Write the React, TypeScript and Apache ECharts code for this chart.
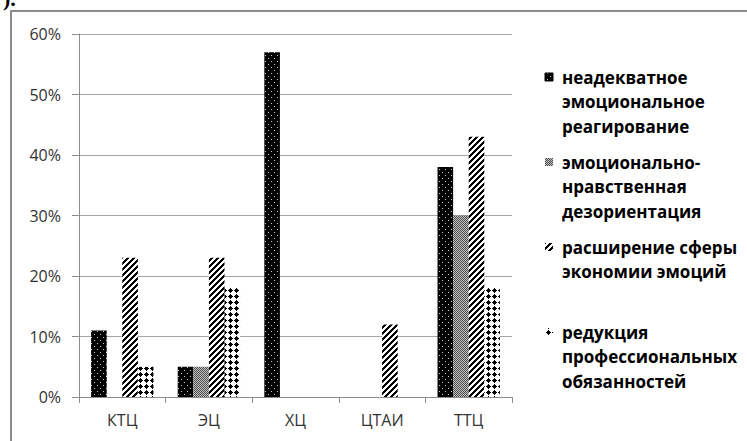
import React, { useEffect, useRef } from "react";
import * as echarts from "echarts";

const categories = ["КТЦ", "ЭЦ", "ХЦ", "ЦТАИ", "ТТЦ"];
const seriesNames = [
  "неадекватное эмоциональное реагирование",
  "эмоционально-нравственная дезориентация",
  "расширение сферы экономии эмоций",
  "редукция профессиональных обязанностей",
];
const legendLabels = [
  "неадекватное\nэмоциональное\nреагирование",
  "эмоционально-\nнравственная\nдезориентация",
  "расширение сферы\nэкономии эмоций",
  "редукция\nпрофессиональных\nобязанностей",
];
const inadequate = [11, 5, 57, 0, 38];
const disorientation = [0, 5, 0, 0, 30];
const economy = [23, 23, 0, 12, 43];
const reduction = [5, 18, 0, 0, 18];
const yMax = 60;
const yStep = 10;

function makeTile(size: number, bg: string, fn: (x: number, y: number) => string | null) {
  const c = document.createElement("canvas");
  c.width = size;
  c.height = size;
  const ctx = c.getContext("2d")!;
  ctx.fillStyle = bg;
  ctx.fillRect(0, 0, size, size);
  for (let y = 0; y < size; y++) {
    for (let x = 0; x < size; x++) {
      const col = fn(x, y);
      if (col) {
        ctx.fillStyle = col;
        ctx.fillRect(x, y, 1, 1);
      }
    }
  }
  return { image: c, repeat: "repeat", imageWidth: size, imageHeight: size } as any;
}

export default function App() {
  const ref = useRef<HTMLDivElement>(null);
  useEffect(() => {
    if (!ref.current) return;
    const chart = echarts.init(ref.current, null, { renderer: "svg" });

    const pDots = makeTile(6, "#000", (x, y) =>
      (x === 1 && y === 1) || (x === 4 && y === 4) ? "#c8c8c8" : null
    );
    const pGray = makeTile(2, "#c4c4c4", (x, y) => ((x + y) % 2 === 0 ? "#4a4a4a" : null));
    const pStripe = makeTile(6, "#fff", (x, y) => ((x + y) % 6 < 3 ? "#000" : null));
    const pDiamond = makeTile(6, "#fff", (x, y) =>
      Math.abs(x - 2) + Math.abs(y - 2) <= 2 ? "#000" : null
    );
    const patterns = [pDots, pGray, pStripe, pDiamond];
    const values = [inadequate, disorientation, economy, reduction];

    const font = "'Open Sans', 'Noto Sans', sans-serif";

    const legendGraphics: any[] = [];
    seriesNames.forEach((_, i) => {
      const c = 77 + i * 85;
      legendGraphics.push({
        type: "rect",
        silent: true,
        shape: { x: 545, y: c - 4, width: 8, height: 8 },
        style: { fill: patterns[i], stroke: i === 0 ? "#000" : null, lineWidth: i === 0 ? 1 : 0 },
      });
      legendGraphics.push({
        type: "text",
        silent: true,
        x: 562,
        y: c - 12.25,
        style: {
          text: legendLabels[i],
          fontSize: 17,
          fontWeight: "bold",
          fontFamily: font,
          lineHeight: 24.5,
          fill: "#000",
          verticalAlign: "top",
          align: "left",
        },
      });
    });

    chart.setOption({
      animation: false,
      grid: { left: 79, right: 235, top: 34, bottom: 44 },
      xAxis: {
        type: "category",
        data: categories,
        axisLine: { lineStyle: { color: "#8c8c8c", width: 1 } },
        axisTick: { show: true, length: 6, lineStyle: { color: "#8c8c8c" } },
        axisLabel: { color: "#333", fontSize: 16, fontFamily: font, margin: 15 },
      },
      yAxis: {
        type: "value",
        min: 0,
        max: yMax,
        interval: yStep,
        axisLine: { show: true, lineStyle: { color: "#8c8c8c", width: 1 } },
        axisTick: { show: true, length: 7, lineStyle: { color: "#8c8c8c" } },
        axisLabel: { color: "#333", fontSize: 16, fontFamily: font, margin: 18, formatter: "{value}%" },
        splitLine: { lineStyle: { color: "#a6a6a6", width: 1 } },
      },
      series: seriesNames.map((n, i) => ({
        name: n,
        type: "bar",
        data: values[i],
        barGap: "0%",
        barCategoryGap: "28%",
        itemStyle: { color: patterns[i] },
      })),
      graphic: [
        {
          type: "rect",
          silent: true,
          z: -10,
          shape: { x: 11, y: 11, width: 800, height: 500 },
          style: { fill: "none", stroke: "#8c8c8c", lineWidth: 2 },
        },
        {
          type: "text",
          silent: true,
          x: 3,
          y: 9,
          style: { text: ").", font: "bold 22px 'Liberation Serif', serif", fill: "#000", verticalAlign: "bottom" },
        },
        ...legendGraphics,
      ],
    });
    return () => chart.dispose();
  }, []);
  return (
    <div
      ref={ref}
      style={{ position: "fixed", left: 0, top: 0, width: 747, height: 441, background: "#fff" }}
    />
  );
}
